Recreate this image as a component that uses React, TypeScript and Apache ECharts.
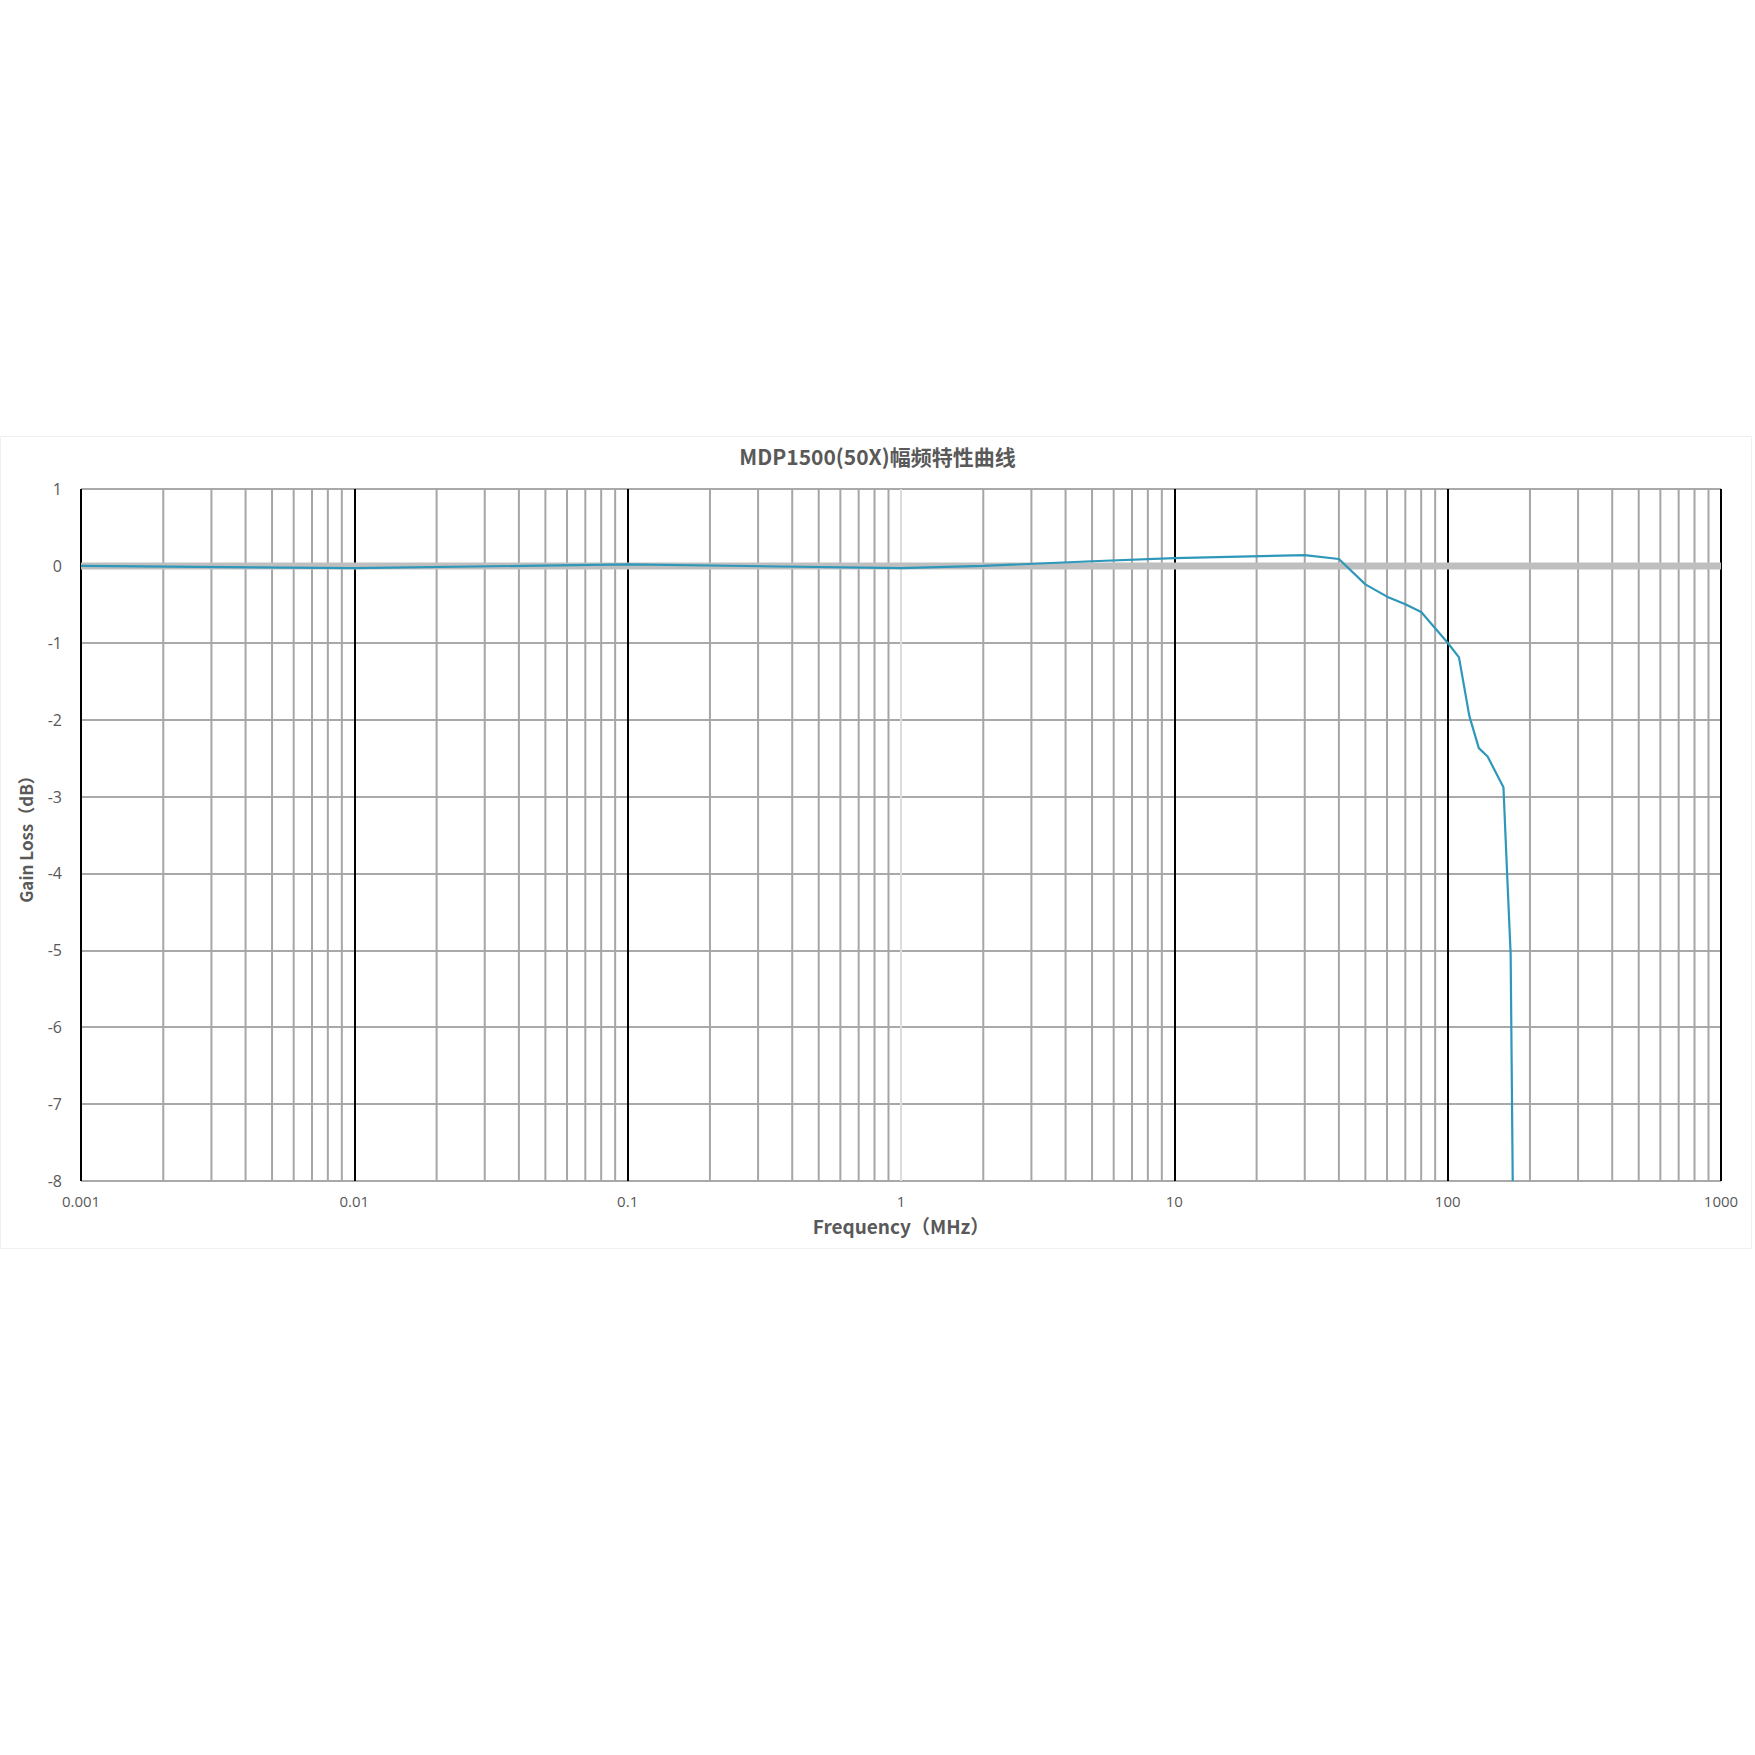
import { useEffect, useRef } from 'react';
import * as echarts from 'echarts';

// frequency (MHz) and gain loss (dB)
const freqMHz = [0.001, 0.01, 0.1, 1, 2, 5, 10, 30, 40, 50, 60, 70, 80, 100, 110, 120, 130, 140, 160, 165, 170, 173];
const gainDb = [0, -0.03, 0.02, -0.03, 0.0, 0.06, 0.1, 0.14, 0.09, -0.24, -0.4, -0.5, -0.6, -1.0, -1.19, -1.95, -2.37, -2.48, -2.88, -4.0, -5.05, -8.0];

// reference line at 0 dB
const refFreq = [0.001, 1000];
const refGain = [0, 0];

const xTickLabels = ['0.001', '0.01', '0.1', '1', '10', '100', '1000'];
const decades = [0.001, 0.01, 0.1, 1, 10, 100];
const minorSteps = [2, 3, 4, 5, 6, 7, 8, 9];
const yMin = -8;
const yMax = 1;

// the 1 MHz major line is light in the original
const majorColors = ['#000000', '#000000', '#000000', '#dcdcdc', '#000000', '#000000', '#000000'];

const TXT = '#595959';
const FONT = '"Open Sans", "Noto Sans CJK SC", sans-serif';
const CJK = '"Noto Sans CJK SC", sans-serif';

export default function App() {
  const ref = useRef<HTMLDivElement>(null);

  useEffect(() => {
    if (!ref.current) return;
    const chart = echarts.init(ref.current, undefined, { renderer: 'svg' });

    // minor grid lines (2..9 in each decade) as broken line segments
    const minorData: any[] = [];
    decades.forEach((d) =>
      minorSteps.forEach((m) => {
        const f = +(d * m).toPrecision(6);
        minorData.push([f, yMin], [f, yMax], [f, '-']);
      }),
    );

    chart.setOption({
      animation: false,
      backgroundColor: '#ffffff',
      title: {
        text: 'MDP1500(50X)幅频特性曲线',
        left: 'center',
        top: 440,
        textStyle: { color: TXT, fontSize: 21, fontWeight: 'bold', fontFamily: CJK },
      },
      graphic: [
        {
          type: 'rect',
          shape: { x: 0.5, y: 436.5, width: 1751, height: 812 },
          style: { fill: 'none', stroke: '#f0f0f0', lineWidth: 1 },
          silent: true,
        },
      ],
      grid: { left: 81, right: 34, top: 489, bottom: 574 },
      xAxis: {
        type: 'log',
        logBase: 10,
        min: 0.001,
        max: 1000,
        name: 'Frequency（MHz）',
        nameLocation: 'middle',
        nameGap: 35,
        nameTextStyle: { color: TXT, fontSize: 19, fontWeight: 'bold', fontFamily: CJK },
        axisLine: { show: false },
        axisTick: { show: false },
        axisLabel: {
          color: TXT,
          fontSize: 15,
          fontFamily: FONT,
          margin: 12,
          showMinLabel: true,
          showMaxLabel: true,
          formatter: (v: number) => xTickLabels[Math.round(Math.log10(v)) + 3] ?? '',
        },
        splitLine: { show: true, lineStyle: { color: majorColors, width: 2 } },
      },
      yAxis: {
        type: 'value',
        min: yMin,
        max: yMax,
        interval: 1,
        name: 'Gain Loss（dB）',
        nameLocation: 'middle',
        nameGap: 47,
        nameTextStyle: { color: TXT, fontSize: 17, fontWeight: 'bold', fontFamily: CJK },
        axisLine: { show: false },
        axisTick: { show: false },
        axisLabel: { color: TXT, fontSize: 16, fontFamily: FONT, margin: 19 },
        splitLine: { show: true, lineStyle: { color: '#8c8c8c', width: 1.5 } },
      },
      series: [
        {
          name: 'minor',
          type: 'line',
          data: minorData,
          connectNulls: false,
          showSymbol: false,
          silent: true,
          z: 1,
          lineStyle: { color: '#a6a6a6', width: 2 },
        },
        {
          name: '0 dB',
          type: 'line',
          data: refFreq.map((f, i) => [f, refGain[i]]),
          showSymbol: false,
          silent: true,
          z: 8,
          lineStyle: { color: '#bfbfbf', width: 7 },
        },
        {
          name: 'Gain Loss',
          type: 'line',
          data: freqMHz.map((f, i) => [f, gainDb[i]]),
          showSymbol: false,
          z: 10,
          lineStyle: { color: '#2e97ba', width: 2.2 },
        },
      ],
    });

    return () => {
      chart.dispose();
    };
  }, []);

  return <div ref={ref} style={{ position: 'absolute', left: 0, top: 0, width: 1755, height: 1755 }} />;
}
